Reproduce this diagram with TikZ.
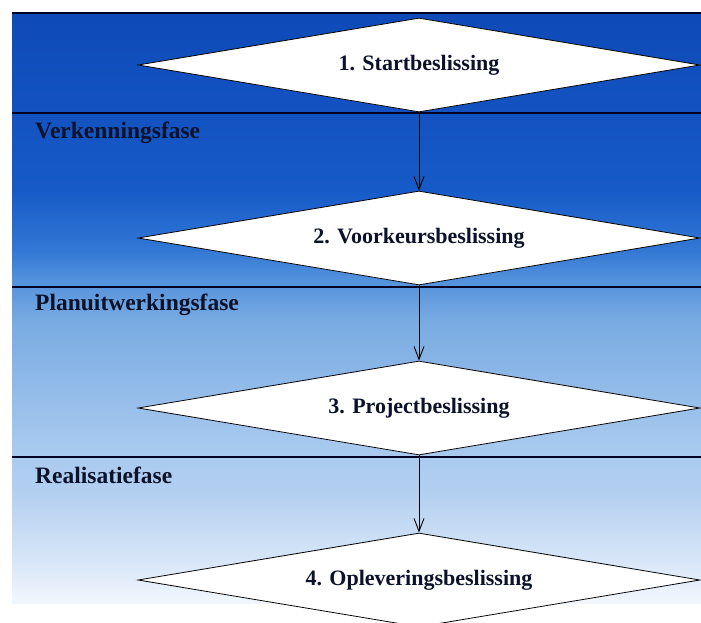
\documentclass[tikz,border=0pt]{standalone}
\usepackage{fontspec}
\setmainfont{Liberation Serif}
\usepackage{xcolor}
\usepackage{tikz}
\usetikzlibrary{shapes.geometric,arrows.meta}

\definecolor{bgtop}{RGB}{14,74,184}
\definecolor{bgupper}{RGB}{22,90,200}
\definecolor{bgdeep}{RGB}{50,120,212}
\definecolor{bgmid}{RGB}{82,145,220}
\definecolor{bgsoft}{RGB}{120,170,226}
\definecolor{bglow}{RGB}{165,200,238}
\definecolor{bgpale}{RGB}{178,207,240}
\definecolor{bgfaint}{RGB}{215,230,248}
\definecolor{bgbot}{RGB}{242,247,253}
\definecolor{labeltext}{RGB}{12,18,42}

\pgfdeclareverticalshading{phaseshade}{100bp}{%
  color(0bp)=(bgbot); color(25bp)=(bgbot); color(28.6bp)=(bgfaint);
  color(34.6bp)=(bgpale); color(38.8bp)=(bglow); color(49bp)=(bgsoft);
  color(52.4bp)=(bgmid); color(54.9bp)=(bgdeep); color(60bp)=(bgupper);
  color(75bp)=(bgtop); color(100bp)=(bgtop)}

\begin{document}
\begin{tikzpicture}[x=1pt, y=-1pt,
		decision/.style={diamond, aspect=5.98, draw=black, line width=0.8pt, fill=white,
			minimum width=562pt, minimum height=94pt, inner sep=0pt,
			font=\fontsize{22}{24}\selectfont\bfseries, text=labeltext},
		phase/.style={anchor=west, inner sep=0pt, font=\fontsize{23.5}{25}\selectfont\bfseries, text=labeltext},
		divider/.style={draw=black!85!blue, line width=1.4pt},
		flow/.style={draw=black, line width=0.9pt, -{Straight Barb[length=13pt,width=10pt]}}]
	\useasboundingbox (0,0) rectangle (701,622);
	\clip (0,0) rectangle (701,622);
	% achtergrond
	\shade[shading=phaseshade] (12,13) rectangle (701,603);
	\draw[divider] (12,13) -- (701,13);
	% fasegrenzen
	\draw[divider] (12,113) -- (701,113);
	\draw[divider] (12,287) -- (701,287);
	\draw[divider] (12,457) -- (701,457);
	% beslissingen
	\node[decision] (start)   at (419,65)  {1. Startbeslissing};
	\node[decision] (voorkeur) at (419,238) {2. Voorkeursbeslissing};
	\node[decision] (project) at (419,408) {3. Projectbeslissing};
	\node[decision] (oplever) at (419,580) {4. Opleveringsbeslissing};
	% fasen
	\node[phase] (verkenning) at (35,133) {Verkenningsfase};
	\node[phase] (planuitw)   at (35,305) {Planuitwerkingsfase};
	\node[phase] (realisatie) at (35,475) {Realisatiefase};
	% pijlen
	\draw[flow] (start.south) -- (voorkeur.north);
	\draw[flow] (voorkeur.south) -- (project.north);
	\draw[flow] (project.south) -- (oplever.north);
\end{tikzpicture}
\end{document}
